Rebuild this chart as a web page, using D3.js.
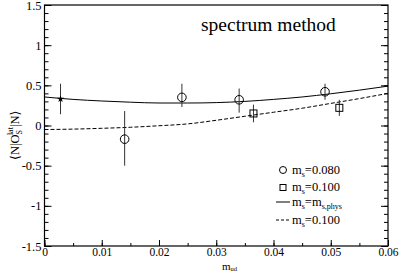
<!DOCTYPE html>
<html>
<head>
<meta charset="utf-8">
<script src="https://cdn.jsdelivr.net/npm/d3@7"></script>
<style>
  body { margin: 0; background: #fff; }
  svg text { font-family: "Liberation Serif", "DejaVu Serif", serif; fill: #000; }
</style>
</head>
<body>
<div id="chart"></div>
<script>
// data
var circleX = [0.014, 0.024, 0.034, 0.049];
var circleY = [-0.17, 0.35, 0.32, 0.42];
var circleLo = [-0.50, 0.23, 0.16, 0.32];
var circleHi = [0.18, 0.52, 0.46, 0.52];

var squareX = [0.0365, 0.0515];
var squareY = [0.15, 0.22];
var squareLo = [0.04, 0.12];
var squareHi = [0.26, 0.32];

var starX = [0.0028];
var starY = [0.33];
var starLo = [0.14];
var starHi = [0.52];

var fitX = [0, 0.005, 0.01, 0.015, 0.02, 0.025, 0.03, 0.035, 0.04, 0.045, 0.05, 0.055, 0.06];
var solidY = [0.355, 0.325, 0.305, 0.29, 0.28, 0.28, 0.285, 0.30, 0.325, 0.355, 0.395, 0.44, 0.49];
var dashedY = [-0.05, -0.045, -0.035, -0.022, -0.003, 0.02, 0.065, 0.115, 0.165, 0.215, 0.275, 0.335, 0.40];

var xTicks = [0, 0.01, 0.02, 0.03, 0.04, 0.05, 0.06];
var yTicks = [-1.5, -1, -0.5, 0, 0.5, 1, 1.5];

var width = 399, height = 273;
var serif = "'Liberation Serif', 'DejaVu Serif', serif";
var svg = d3.select("#chart").append("svg")
    .attr("width", width)
    .attr("height", height);

var xScale = d3.scaleLinear().domain([0, 0.06]).range([44.5, 388]);
var yScale = d3.scaleLinear().domain([-1.5, 1.5]).range([246, 5]);

/* frame */
svg.append("rect")
    .attr("x", xScale(0))
    .attr("y", yScale(1.5))
    .attr("width", xScale(0.06) - xScale(0))
    .attr("height", yScale(-1.5) - yScale(1.5))
    .attr("fill", "none")
    .attr("stroke", "#000")
    .attr("stroke-width", 1.2);

/* x axis, ticks inward */
var xMinor = d3.range(0, 0.0601, 0.005);
svg.append("g")
    .attr("transform", `translate(0, ${yScale(-1.5)})`)
    .call(d3.axisBottom(xScale).tickValues(xMinor).tickSize(-3).tickFormat(""))
    .call(g => g.select(".domain").remove());
var xAxis = svg.append("g")
    .attr("transform", `translate(0, ${yScale(-1.5)})`)
    .call(d3.axisBottom(xScale).tickValues(xTicks).tickSize(-6).tickPadding(2)
        .tickFormat(d => d === 0 ? "0" : d3.format(".2f")(d)));
xAxis.select(".domain").remove();
xAxis.attr("font-family", serif);
xAxis.selectAll("text").style("font-size", "11.5px").style("font-family", serif);

/* y axis left + right */
var yMinor = d3.range(-1.5, 1.501, 0.1);
[["left", 0], ["right", 0.06]].forEach(function(side) {
    var axisFn = side[0] === "left" ? d3.axisLeft : d3.axisRight;
    svg.append("g")
        .attr("transform", `translate(${xScale(side[1])}, 0)`)
        .call(axisFn(yScale).tickValues(yMinor).tickSize(-4).tickFormat(""))
        .call(g => g.select(".domain").remove());
    var g = svg.append("g")
        .attr("transform", `translate(${xScale(side[1])}, 0)`)
        .call(axisFn(yScale).tickValues(yTicks).tickSize(-7).tickPadding(3)
            .tickFormat(d => side[0] === "left" ? String(d) : ""));
    g.select(".domain").remove();
    g.attr("font-family", serif);
    g.selectAll("text").style("font-size", "12.5px").style("font-family", serif);
});
svg.selectAll(".tick line").attr("stroke", "#000");

/* fit curves */
var line = d3.line()
    .x((d, i) => xScale(fitX[i]))
    .y(d => yScale(d))
    .curve(d3.curveMonotoneX);

svg.append("path")
    .datum(solidY)
    .attr("d", line)
    .attr("fill", "none")
    .attr("stroke", "#000")
    .attr("stroke-width", 1);

svg.append("path")
    .datum(dashedY)
    .attr("d", line)
    .attr("fill", "none")
    .attr("stroke", "#000")
    .attr("stroke-width", 1)
    .attr("stroke-dasharray", "4,2");

/* error bars */
function errBars(xs, lo, hi) {
    svg.append("g").selectAll("line")
        .data(xs)
        .join("line")
        .attr("x1", d => xScale(d))
        .attr("x2", d => xScale(d))
        .attr("y1", (d, i) => yScale(lo[i]))
        .attr("y2", (d, i) => yScale(hi[i]))
        .attr("stroke", "#333")
        .attr("stroke-width", 1);
}
errBars(circleX, circleLo, circleHi);
errBars(squareX, squareLo, squareHi);
errBars(starX, starLo, starHi);

/* markers */
svg.append("g").selectAll("circle")
    .data(circleX)
    .join("circle")
    .attr("cx", d => xScale(d))
    .attr("cy", (d, i) => yScale(circleY[i]))
    .attr("r", 4.3)
    .attr("fill", "none")
    .attr("stroke", "#000");

svg.append("g").selectAll("rect")
    .data(squareX)
    .join("rect")
    .attr("x", d => xScale(d) - 3.5)
    .attr("y", (d, i) => yScale(squareY[i]) - 3.5)
    .attr("width", 7)
    .attr("height", 7)
    .attr("fill", "none")
    .attr("stroke", "#000");

svg.append("g").selectAll("path")
    .data(starX)
    .join("path")
    .attr("transform", (d, i) => `translate(${xScale(d)}, ${yScale(starY[i])})`)
    .attr("d", d3.symbol(d3.symbolStar, 16))
    .attr("fill", "#000");

/* title */
svg.append("text")
    .attr("x", 201)
    .attr("y", 31)
    .style("font-size", "19.5px")
    .text("spectrum method");

/* legend */
var legend = svg.append("g");
function legendText(y, main, sub, rest, sub2) {
    var t = legend.append("text")
        .attr("x", 292)
        .attr("y", y)
        .style("font-size", "12.5px");
    t.append("tspan").text(main);
    t.append("tspan").attr("dy", 3).style("font-size", "8px").text(sub);
    t.append("tspan").attr("dy", -3).text(rest);
    if (sub2) t.append("tspan").attr("dy", 3).style("font-size", "8px").text(sub2);
}
legend.append("circle").attr("cx", 283).attr("cy", 170).attr("r", 3.5)
    .attr("fill", "none").attr("stroke", "#000");
legendText(174, "m", "s", "=0.080");
legend.append("rect").attr("x", 280).attr("y", 184.5).attr("width", 6).attr("height", 6)
    .attr("fill", "none").attr("stroke", "#000");
legendText(191, "m", "s", "=0.100");
legend.append("line").attr("x1", 276).attr("x2", 290).attr("y1", 202).attr("y2", 202)
    .attr("stroke", "#000");
legendText(206, "m", "s", "=m", "s,phys");
legend.append("line").attr("x1", 276).attr("x2", 290).attr("y1", 220).attr("y2", 220)
    .attr("stroke", "#000").attr("stroke-dasharray", "3,2");
legendText(224, "m", "s", "=0.100");

/* axis labels */
var xl = svg.append("text")
    .attr("x", 222)
    .attr("y", 270)
    .style("font-size", "11px");
xl.append("tspan").text("m");
xl.append("tspan").attr("dy", 1).style("font-size", "6.5px").text("ud");

var yl = svg.append("text")
    .attr("transform", "translate(19, 160) rotate(-90)")
    .style("font-size", "12.5px");
yl.append("tspan").text("\u27E8N|O");
yl.append("tspan").attr("dy", 3).attr("dx", 0).style("font-size", "8px").text("S");
yl.append("tspan").attr("dy", -9).attr("dx", -5).style("font-size", "8px").text("lat");
yl.append("tspan").attr("dy", 6).text("|N\u27E9");
</script>
</body>
</html>
